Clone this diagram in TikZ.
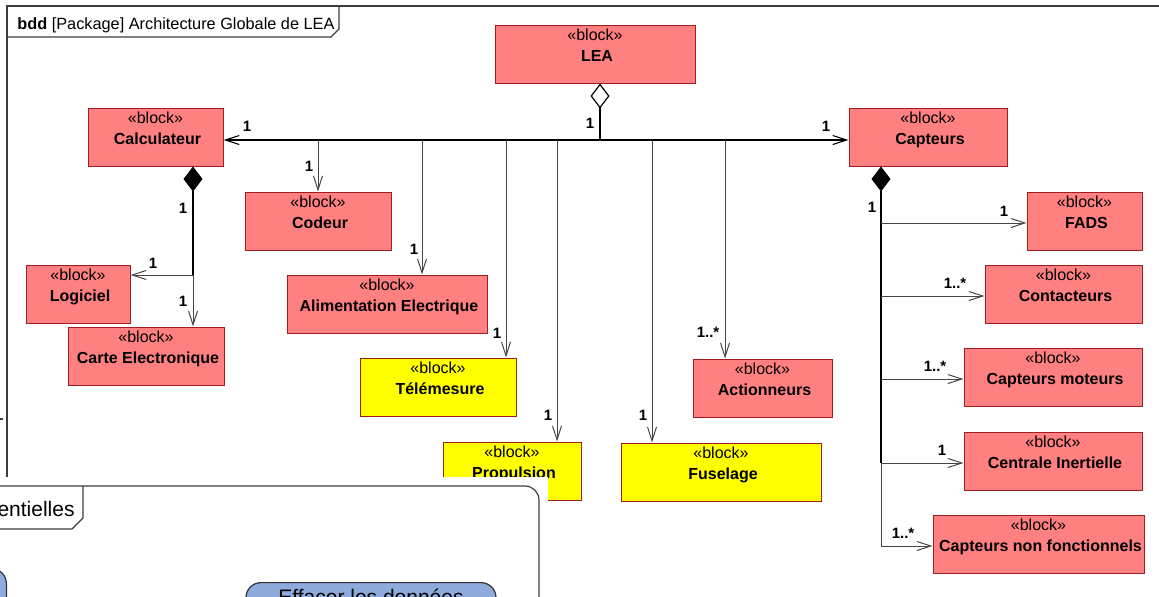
\documentclass[tikz,border=0pt]{standalone}
\usepackage{fontspec}
\setmainfont{Liberation Sans}
\usetikzlibrary{arrows.meta}

\definecolor{blockred}{RGB}{255,128,128}
\definecolor{blockyellow}{RGB}{255,255,0}
\definecolor{blockedge}{RGB}{160,30,30}
\definecolor{linkgray}{RGB}{70,70,70}
\definecolor{framegray}{RGB}{60,60,60}
\definecolor{ucblue}{RGB}{143,170,220}

\tikzset{
  blk/.style={draw=blockedge, line width=0.5pt, inner sep=0pt},
  stereo/.style={font=\fontsize{8}{9.6}\selectfont, inner sep=0pt, anchor=base},
  bname/.style={font=\fontsize{8}{9.6}\selectfont\bfseries, inner sep=0pt, anchor=base},
  mult/.style={font=\fontsize{7.5}{9}\selectfont\bfseries, inner sep=0pt},
  opentip/.tip={Straight Barb[length=7pt,width=4.5pt]},
  assoc/.style={draw=linkgray, line width=0.5pt, -opentip},
  assocdark/.style={draw=black, line width=0.55pt, -opentip},
  wholeline/.style={draw=black, line width=0.6pt},
  compose/.style={wholeline, {Diamond[length=12.5pt,width=9.5pt,fill=black]}-},
  aggreg/.style={wholeline, {Diamond[length=12.5pt,width=9.5pt,fill=white]}-},
  frameline/.style={draw=framegray, line width=0.6pt},
  usecase/.style={draw=black!80, line width=0.6pt, fill=ucblue, rounded corners=7.5pt, inner sep=0pt},
}

% a SysML block: name, x1, y1, x2, y2 (pixel units), fill colour, block name
\newcommand{\umlblock}[7]{%
  \node[blk, fill=#6, minimum width={(#4-#2)*0.5pt}, minimum height={(#5-#3)*0.5pt}]
    (#1) at ({(#2+#4)/2},{(#3+#5)/2}) {};
  \node[stereo] (#1-st) at ([yshift=-8.2pt]#1.north) {«block»};
  \node[bname] (#1-nm) at ([xshift=1pt,yshift=-18.4pt]#1.north) {#7};
}

\begin{document}
\begin{tikzpicture}[x=0.5pt,y=-0.5pt]
\useasboundingbox (0,0) rectangle (1159,596);
\clip (0,0) rectangle (1159,596);

% package frame
\draw[frameline] (7,600) -- (7,6) -- (1170,6);
\draw[frameline] (7,37) -- (331,37) -- (339,29) -- (339,6);
\node[anchor=base west, inner sep=0pt, font=\fontsize{8.15}{9.8}\selectfont] (bddtitle)
  at (17,29.3) {\textbf{bdd} [Package] Architecture Globale de LEA};

% blocks
\umlblock{lea}{495}{25}{695}{83}{blockred}{LEA}
\umlblock{calc}{88}{108}{223}{166}{blockred}{Calculateur}
\umlblock{capt}{849}{108}{1007}{166}{blockred}{Capteurs}
\umlblock{codeur}{245}{192}{391}{250}{blockred}{Codeur}
\umlblock{alim}{287}{275}{487}{333}{blockred}{Alimentation Electrique}
\umlblock{logi}{26}{265}{130}{323}{blockred}{Logiciel}
\umlblock{carte}{68}{327}{224}{385}{blockred}{Carte Electronique}
\umlblock{tele}{360}{358}{516}{416}{blockyellow}{Télémesure}
\umlblock{prop}{443}{442}{581}{500}{blockyellow}{Propulsion}
\umlblock{fuse}{621}{443}{821}{501}{blockyellow}{Fuselage}
\umlblock{act}{693}{359}{832}{417}{blockred}{Actionneurs}
\umlblock{fads}{1027}{192}{1142}{250}{blockred}{FADS}
\umlblock{contact}{985}{265}{1142}{323}{blockred}{Contacteurs}
\umlblock{captmot}{964}{348}{1142}{406}{blockred}{Capteurs moteurs}
\umlblock{centrale}{964}{432}{1142}{490}{blockred}{Centrale Inertielle}
\umlblock{nonfonc}{933}{515}{1144}{573}{blockred}{Capteurs non fonctionnels}

% LEA aggregation and its bus
\coordinate (bus) at (600,140);
\draw[aggreg] (lea.south -| bus) -- (bus);
\draw[assocdark] (bus) -- (bus -| calc.east);
\draw[assocdark] (bus) -- (bus -| capt.west);
\coordinate (dCod) at (318,140);
\coordinate (dAlim) at (422,140);
\coordinate (dTele) at (506,140);
\coordinate (dProp) at (557,140);
\coordinate (dFuse) at (652,140);
\coordinate (dAct) at (725,140);
\draw[assoc] (dCod) -- (dCod |- codeur.north);
\draw[assoc] (dAlim) -- (dAlim |- alim.north);
\draw[assoc] (dTele) -- (dTele |- tele.north);
\draw[assoc] (dProp) -- (dProp |- prop.north);
\draw[assoc] (dFuse) -- (dFuse |- fuse.north);
\draw[assoc] (dAct) -- (dAct |- act.north);
\node[mult] (mLea) at (590,123) {1};
\node[mult] (mCalc) at (247,126) {1};
\node[mult] (mCapt) at (826,126) {1};
\node[mult] (mCod) at (309,166) {1};
\node[mult] (mAlim) at (414,249) {1};
\node[mult] (mTele) at (497,333) {1};
\node[mult] (mProp) at (548,415) {1};
\node[mult] (mFuse) at (643,415) {1};
\node[mult] (mAct) at (708,332) {1..*};

% Calculateur composition
\coordinate (cj) at (193,275);
\draw[compose] (calc.south -| cj) -- (cj);
\draw[assoc] (cj) -- (cj -| logi.east);
\draw[assoc] (cj) -- (cj |- carte.north);
\node[mult] (mCj) at (183,208) {1};
\node[mult] (mLogi) at (153,263) {1};
\node[mult] (mCarte) at (183,301) {1};

% Capteurs composition
\coordinate (s1) at (881,223);
\coordinate (s2) at (881,296);
\coordinate (s3) at (881,379);
\coordinate (s4) at (881,463);
\coordinate (s5) at (881,546);
\draw[compose] (capt.south -| s1) -- (s4);
\draw[draw=linkgray, line width=0.5pt] (s4) -- (s5);
\draw[assoc] (s1) -- (s1 -| fads.west);
\draw[assoc] (s2) -- (s2 -| contact.west);
\draw[assoc] (s3) -- (s3 -| captmot.west);
\draw[assoc] (s4) -- (s4 -| centrale.west);
\draw[assoc] (s5) -- (s5 -| nonfonc.west);
\node[mult] (mSj) at (872,207) {1};
\node[mult] (mFads) at (1004,211) {1};
\node[mult] (mCont) at (955,283) {1..*};
\node[mult] (mMot) at (935,366) {1..*};
\node[mult] (mCent) at (942,450) {1};
\node[mult] (mNon) at (903,533) {1..*};

% small mark on the left edge
\draw[frameline] (0,419) -- (2.5,419);

% second window lying over the lower left part
\fill[white] (-5,477) rectangle (548,610);
\draw[frameline, rounded corners=7pt] (-5,486) -- (539,486) -- (539,620);
\draw[frameline] (83,486) -- (83,518) -- (72,529) -- (-5,529);
\node[anchor=base east, inner sep=0pt, font=\fontsize{10.5}{12}\selectfont] (pantitle)
  at (75,516.7) {entielles};

\node[usecase, anchor=north, minimum width=125pt, minimum height=40pt] (effacer) at (371,582) {};
\node[anchor=base, inner sep=0pt, font=\fontsize{10.5}{12}\selectfont] (effacer-t)
  at (371,604) {Effacer les données};
\node[usecase, anchor=north east, minimum width=40pt, minimum height=30pt] (ucleft) at (7,568) {};
\end{tikzpicture}
\end{document}
